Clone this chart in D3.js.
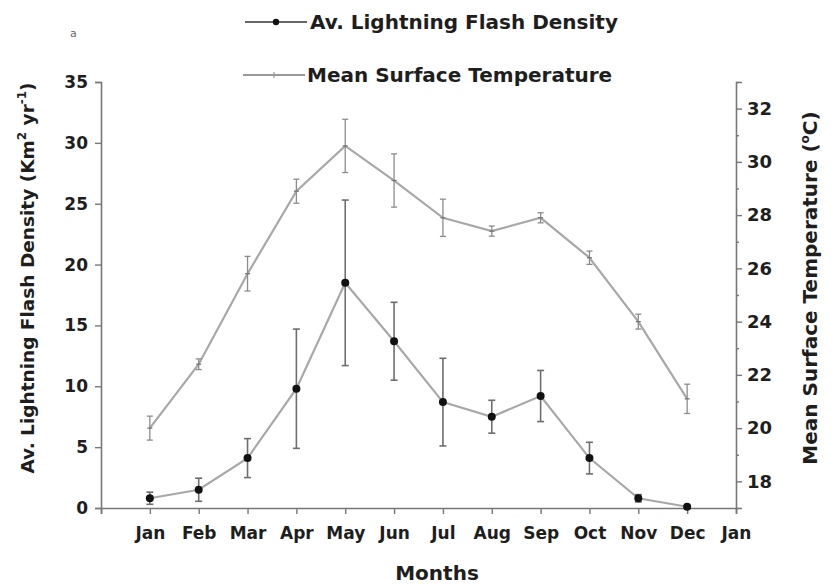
<!DOCTYPE html>
<html><head><meta charset="utf-8">
<script src="https://cdn.jsdelivr.net/npm/d3@7"></script>
<style>
html,body{margin:0;padding:0;background:#fff;}
svg{display:block;}
text{font-family:"DejaVu Sans",Arial,sans-serif;font-weight:bold;fill:#1e1e1e;}
</style></head>
<body>
<svg id="chart" width="837" height="585"></svg>
<script>
const months = ["Jan","Feb","Mar","Apr","May","Jun","Jul","Aug","Sep","Oct","Nov","Dec"];
const tickLabels = ["Jan","Feb","Mar","Apr","May","Jun","Jul","Aug","Sep","Oct","Nov","Dec","Jan"];
const flash    = [0.8, 1.5, 4.1, 9.8, 18.5, 13.7, 8.7, 7.5, 9.2, 4.1, 0.8, 0.1];
const flashErr = [0.5, 0.95, 1.6, 4.9, 6.8, 3.2, 3.6, 1.35, 2.1, 1.3, 0.3, 0.05];
const temp     = [20.0, 22.4, 25.8, 28.9, 30.6, 29.3, 27.9, 27.4, 27.9, 26.4, 24.0, 21.1];
const tempErr  = [0.45, 0.2, 0.65, 0.45, 1.0, 1.0, 0.7, 0.19, 0.19, 0.25, 0.28, 0.55];
const leftTicks = [0,5,10,15,20,25,30,35];
const rightTicks = [18,20,22,24,26,28,30,32];

const svg = d3.select("#chart");
const L = 101, R = 736, T = 82, B = 508;

const x = d3.scaleLinear().domain([0,13]).range([L,R]);
const yL = d3.scaleLinear().domain([0,35]).range([B,T]);
const yR = d3.scaleLinear().domain([17,33]).range([B,T]);

// Axes
const xAxis = d3.axisBottom(x).tickValues(d3.range(0,14)).tickFormat(d => d === 0 ? "" : tickLabels[d-1]).tickSize(6).tickPadding(13);
const gx = svg.append("g").attr("transform",`translate(0,${B})`).call(xAxis);
gx.selectAll("text").style("font-size","17px");

const gl = svg.append("g").attr("transform",`translate(${L},0)`)
  .call(d3.axisLeft(yL).tickValues(leftTicks).tickSize(6).tickPadding(7));
gl.selectAll("text").style("font-size","17px");

const gr = svg.append("g").attr("transform",`translate(${R},0)`)
  .call(d3.axisRight(yR).tickValues(rightTicks).tickSize(6).tickPadding(5));
gr.selectAll("text").style("font-size","18px");
// right minor ticks
svg.append("g").attr("transform",`translate(${R},0)`)
  .call(d3.axisRight(yR).tickValues(d3.range(17,34,2)).tickSize(3).tickFormat(""))
  .select(".domain").remove();

svg.selectAll(".domain").attr("stroke","#777").attr("stroke-width",1.6);
svg.selectAll(".tick line").attr("stroke","#777").attr("stroke-width",1.4);

// Temperature series
const tData = temp.map((v,i)=>({i:i+1,v,e:tempErr[i]}));
const fData = flash.map((v,i)=>({i:i+1,v,e:flashErr[i]}));

const tLine = d3.line().x(d=>x(d.i)).y(d=>yR(d.v));
svg.append("path").datum(tData).attr("d",tLine).attr("fill","none")
  .attr("stroke","#a8a8a8").attr("stroke-width",2.2);

const tErr = svg.append("g").attr("stroke","#8c8c8c").attr("stroke-width",1.3);
tData.forEach(d=>{
  tErr.append("line").attr("x1",x(d.i)).attr("x2",x(d.i)).attr("y1",yR(d.v-d.e)).attr("y2",yR(d.v+d.e));
  tErr.append("line").attr("x1",x(d.i)-3).attr("x2",x(d.i)+3).attr("y1",yR(d.v-d.e)).attr("y2",yR(d.v-d.e));
  tErr.append("line").attr("x1",x(d.i)-3).attr("x2",x(d.i)+3).attr("y1",yR(d.v+d.e)).attr("y2",yR(d.v+d.e));
  tErr.append("line").attr("x1",x(d.i)-2.5).attr("x2",x(d.i)+2.5).attr("y1",yR(d.v)).attr("y2",yR(d.v)).attr("stroke","#777");
});

// Lightning series
const fLine = d3.line().x(d=>x(d.i)).y(d=>yL(d.v));
svg.append("path").datum(fData).attr("d",fLine).attr("fill","none")
  .attr("stroke","#a8a8a8").attr("stroke-width",2.2);

const fErr = svg.append("g").attr("stroke","#6e6e6e").attr("stroke-width",1.6);
fData.forEach(d=>{
  const lo = Math.max(0,d.v-d.e);
  fErr.append("line").attr("x1",x(d.i)).attr("x2",x(d.i)).attr("y1",yL(lo)).attr("y2",yL(d.v+d.e));
  fErr.append("line").attr("x1",x(d.i)-3.5).attr("x2",x(d.i)+3.5).attr("y1",yL(lo)).attr("y2",yL(lo));
  fErr.append("line").attr("x1",x(d.i)-3.5).attr("x2",x(d.i)+3.5).attr("y1",yL(d.v+d.e)).attr("y2",yL(d.v+d.e));
});
svg.append("g").selectAll("circle").data(fData).join("circle")
  .attr("cx",d=>x(d.i)).attr("cy",d=>yL(d.v)).attr("r",4).attr("fill","#111");

// Legend
const leg = svg.append("g");
leg.append("line").attr("x1",245).attr("x2",307).attr("y1",22).attr("y2",22).attr("stroke","#666").attr("stroke-width",2);
leg.append("circle").attr("cx",276).attr("cy",22).attr("r",3.2).attr("fill","#111");
leg.append("text").attr("x",310).attr("y",29).style("font-size","20px").text("Av. Lightning Flash Density");
leg.append("line").attr("x1",243).attr("x2",305).attr("y1",75).attr("y2",75).attr("stroke","#999").attr("stroke-width",2);
leg.append("line").attr("x1",274).attr("x2",274).attr("y1",72).attr("y2",78).attr("stroke","#999").attr("stroke-width",1.2);
leg.append("text").attr("x",307).attr("y",82).style("font-size","20px").text("Mean Surface Temperature");

// Panel label
svg.append("text").attr("x",70).attr("y",37).style("font-size","11px").style("font-weight","normal").style("fill","#666").text("a");

// Axis titles
svg.append("text").attr("x",437).attr("y",580).attr("text-anchor","middle").style("font-size","20px").text("Months");

const lt = svg.append("text").attr("transform","translate(34,278) rotate(-90)").attr("text-anchor","middle").style("font-size","18.5px");
lt.append("tspan").text("Av. Lightning Flash Density (Km");
lt.append("tspan").attr("dy",-8).style("font-size","12px").text("2");
lt.append("tspan").attr("dy",8).text(" yr");
lt.append("tspan").attr("dy",-8).style("font-size","12px").text("-1");
lt.append("tspan").attr("dy",8).text(")");

const rt = svg.append("text").attr("transform","translate(817,288) rotate(-90)").attr("text-anchor","middle").style("font-size","20px");
rt.append("tspan").text("Mean Surface Temperature (");
rt.append("tspan").attr("dy",-8).style("font-size","12px").text("o");
rt.append("tspan").attr("dy",8).text("C)");
</script>
</body></html>
